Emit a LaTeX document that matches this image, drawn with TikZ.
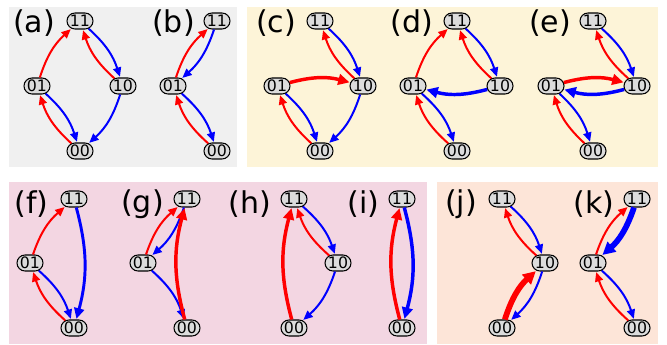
\documentclass[tikz,border=0pt]{standalone}
\usepackage{fontspec}
\setmainfont{DejaVu Sans}
\usetikzlibrary{arrows.meta,shapes.misc}
\definecolor{pgray}{RGB}{240,240,240}
\definecolor{pyel}{RGB}{253,244,216}
\definecolor{ppink}{RGB}{243,214,226}
\definecolor{ppeach}{RGB}{253,229,216}
\definecolor{ngray}{RGB}{220,220,220}
\tikzset{
  st/.style={rounded rectangle, draw=black, line width=0.8pt, fill=ngray, inner xsep=2pt, inner ysep=0pt,
    minimum width=23.5pt, minimum height=12pt, font=\fontsize{11.8}{12}\selectfont},
  lab/.style={font=\fontsize{22.5}{27}\selectfont, inner sep=0pt},
  ed/.style={line width=1.5pt, -{Triangle[length=7pt,width=6pt]}, shorten >=0.5pt},
  up/.style={ed, red},
  dn/.style={ed, blue},
  tk/.style={line width=2.6pt, -{Triangle[length=8.5pt,width=8pt]}},
  vtk/.style={line width=4.3pt, -{Triangle[length=9.5pt,width=9.5pt]}},
  bl/.style={bend left=15}
}
\begin{document}
\begin{tikzpicture}[x=0.75pt,y=-0.75pt]
\useasboundingbox (0,0) rectangle (667,345);
% panels
\fill[pgray] (9,7) rectangle (237,167);
\fill[pyel] (247,7) rectangle (658,167);
\fill[ppink] (9,182) rectangle (427,344);
\fill[ppeach] (437,182) rectangle (658,344);
% labels
\node[lab] (la) at (34,23.5) {(a)};
\node[lab] (lb) at (173.5,23.5) {(b)};
\node[lab] (lc) at (276,23.5) {(c)};
\node[lab] (ld) at (412,23.5) {(d)};
\node[lab] (le) at (550,23.5) {(e)};
\node[lab] (lf) at (31.5,204) {(f)};
\node[lab] (lg) at (142.5,204) {(g)};
\node[lab] (lh) at (250,204) {(h)};
\node[lab] (li) at (363.5,204) {(i)};
\node[lab] (lj) at (461,204) {(j)};
\node[lab] (lk) at (594,204) {(k)};
% (a)
\node[st] (a11) at (80,21) {11};
\node[st] (a01) at (37,86) {01};
\node[st] (a10) at (123,86) {10};
\node[st] (a00) at (80,151) {00};
\draw[up] (a01) to[bl] (a11);
\draw[dn] (a11) to[bl] (a10);
\draw[up] (a10) to[bl] (a11);
\draw[dn] (a10) to[bl] (a00);
\draw[dn] (a01) to[bl] (a00);
\draw[up] (a00) to[bl] (a01);
% (b)
\node[st] (b11) at (217,21) {11};
\node[st] (b01) at (173,86) {01};
\node[st] (b00) at (217,151) {00};
\draw[up] (b01) to[bl] (b11);
\draw[dn] (b11) to[bl] (b01);
\draw[dn] (b01) to[bl] (b00);
\draw[up] (b00) to[bl] (b01);
% (c)
\node[st] (c11) at (320,21) {11};
\node[st] (c01) at (277,86) {01};
\node[st] (c10) at (363,86) {10};
\node[st] (c00) at (320,151) {00};
\draw[dn] (c11) to[bl] (c10);
\draw[up] (c10) to[bl] (c11);
\draw[up,tk] (c01) to[bl] (c10);
\draw[dn] (c10) to[bl] (c00);
\draw[dn] (c01) to[bl] (c00);
\draw[up] (c00) to[bl] (c01);
% (d)
\node[st] (d11) at (457,21) {11};
\node[st] (d01) at (413,86) {01};
\node[st] (d10) at (500,86) {10};
\node[st] (d00) at (457,151) {00};
\draw[up] (d01) to[bl] (d11);
\draw[dn] (d11) to[bl] (d10);
\draw[up] (d10) to[bl] (d11);
\draw[dn,tk] (d10) to[bl] (d01);
\draw[dn] (d01) to[bl] (d00);
\draw[up] (d00) to[bl] (d01);
% (e)
\node[st] (e11) at (593,21) {11};
\node[st] (e01) at (551,86) {01};
\node[st] (e10) at (637,86) {10};
\node[st] (e00) at (593,151) {00};
\draw[dn] (e11) to[bl] (e10);
\draw[up] (e10) to[bl] (e11);
\draw[up,tk] (e01) to[bl] (e10);
\draw[dn,tk] (e10) to[bl] (e01);
\draw[dn] (e01) to[bl] (e00);
\draw[up] (e00) to[bl] (e01);
% (f)
\node[st] (f11) at (74,199) {11};
\node[st] (f01) at (30,263) {01};
\node[st] (f00) at (74,328) {00};
\draw[up] (f01) to[bl] (f11);
\draw[dn,line width=2.2pt,-{Triangle[length=8pt,width=7.5pt]}] (f11) to[bl] (f00);
\draw[dn] (f01) to[bl] (f00);
\draw[up] (f00) to[bl] (f01);
% (g)
\node[st] (g11) at (187,199) {11};
\node[st] (g01) at (143,263) {01};
\node[st] (g00) at (187,328) {00};
\draw[up] (g01) to[bl] (g11);
\draw[dn] (g11) to[bl] (g01);
\draw[dn] (g01) to[bl] (g00);
\draw[up,tk] (g00) to[bl] (g11);
% (h)
\node[st] (h11) at (294,199) {11};
\node[st] (h10) at (338,263) {10};
\node[st] (h00) at (294,328) {00};
\draw[up,tk] (h00) to[bl] (h11);
\draw[dn] (h11) to[bl] (h10);
\draw[up] (h10) to[bl] (h11);
\draw[dn] (h10) to[bl] (h00);
% (i)
\node[st] (i11) at (402,199) {11};
\node[st] (i00) at (402,328) {00};
\draw[up,tk] (i00) to[bl] (i11);
\draw[dn,tk] (i11) to[bl] (i00);
% (j)
\node[st] (j11) at (502,199) {11};
\node[st] (j10) at (545,263) {10};
\node[st] (j00) at (502,328) {00};
\draw[dn] (j11) to[bl] (j10);
\draw[up] (j10) to[bl] (j11);
\draw[up,vtk] (j00) to[bl] (j10);
\draw[dn] (j10) to[bl] (j00);
% (k)
\node[st] (k11) at (637,199) {11};
\node[st] (k01) at (593,263) {01};
\node[st] (k00) at (637,328) {00};
\draw[up] (k01) to[bl] (k11);
\draw[dn,vtk] (k11) to[bl] (k01);
\draw[dn] (k01) to[bl] (k00);
\draw[up] (k00) to[bl] (k01);
\end{tikzpicture}
\end{document}
